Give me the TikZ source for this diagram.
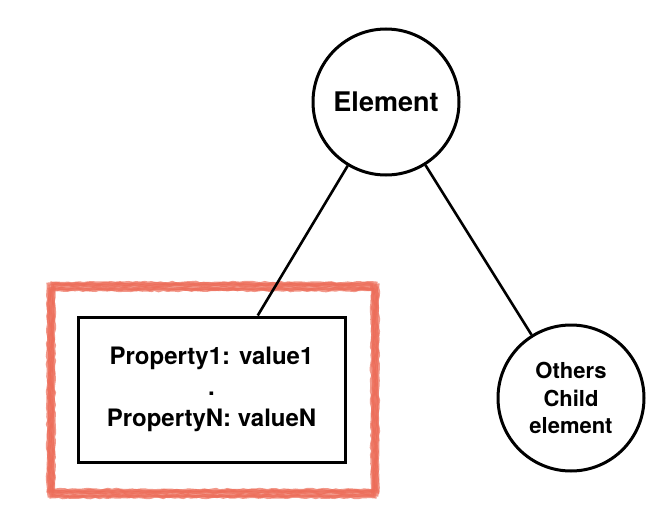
\documentclass[tikz,border=0pt]{standalone}
\usepackage{fontspec}
\setmainfont{TeX Gyre Heros}
\usetikzlibrary{decorations.pathmorphing}
\definecolor{sketchred}{RGB}{236,108,88}
\begin{document}
\begin{tikzpicture}[x=1pt,y=-1pt]
    \tikzstyle{circ}=[draw,circle,line width=3pt,minimum size=146pt,inner sep=0pt,align=center]
    \tikzstyle{propbox}=[draw,rectangle,line width=3pt,minimum width=267pt,minimum height=145pt,align=center]
    \tikzstyle{link}=[line width=2.6pt]
    \tikzstyle{sketch}=[draw=sketchred,line width=3pt,opacity=0.7,
      decorate,decoration={random steps,segment length=4pt,amplitude=0.8pt}]
    \useasboundingbox (0,0) rectangle (670,530);

    % rough highlight round the properties
    \foreach \dx/\dy in {0/0,2/-3,-1/3,3/2,-2/-2,1/4,4/-1}
      \draw[sketch,shift={(\dx,\dy)}] (50,286) rectangle (374,493);

    \node[circ,font=\fontsize{27}{30}\selectfont\bfseries] (elem) at (386,102) {Element};
    \node[propbox,font=\fontsize{24}{31}\selectfont\bfseries] (props) at (211.5,389.5)
      {Property1: value1\\.\\PropertyN: valueN};
    \node[circ,font=\fontsize{22}{27.5}\selectfont\bfseries] (child) at (571,398)
      {Others\\Child\\element};

    \draw[link] (elem) -- (props.58);
    \draw[link] (elem) -- (child);
\end{tikzpicture}
\end{document}
